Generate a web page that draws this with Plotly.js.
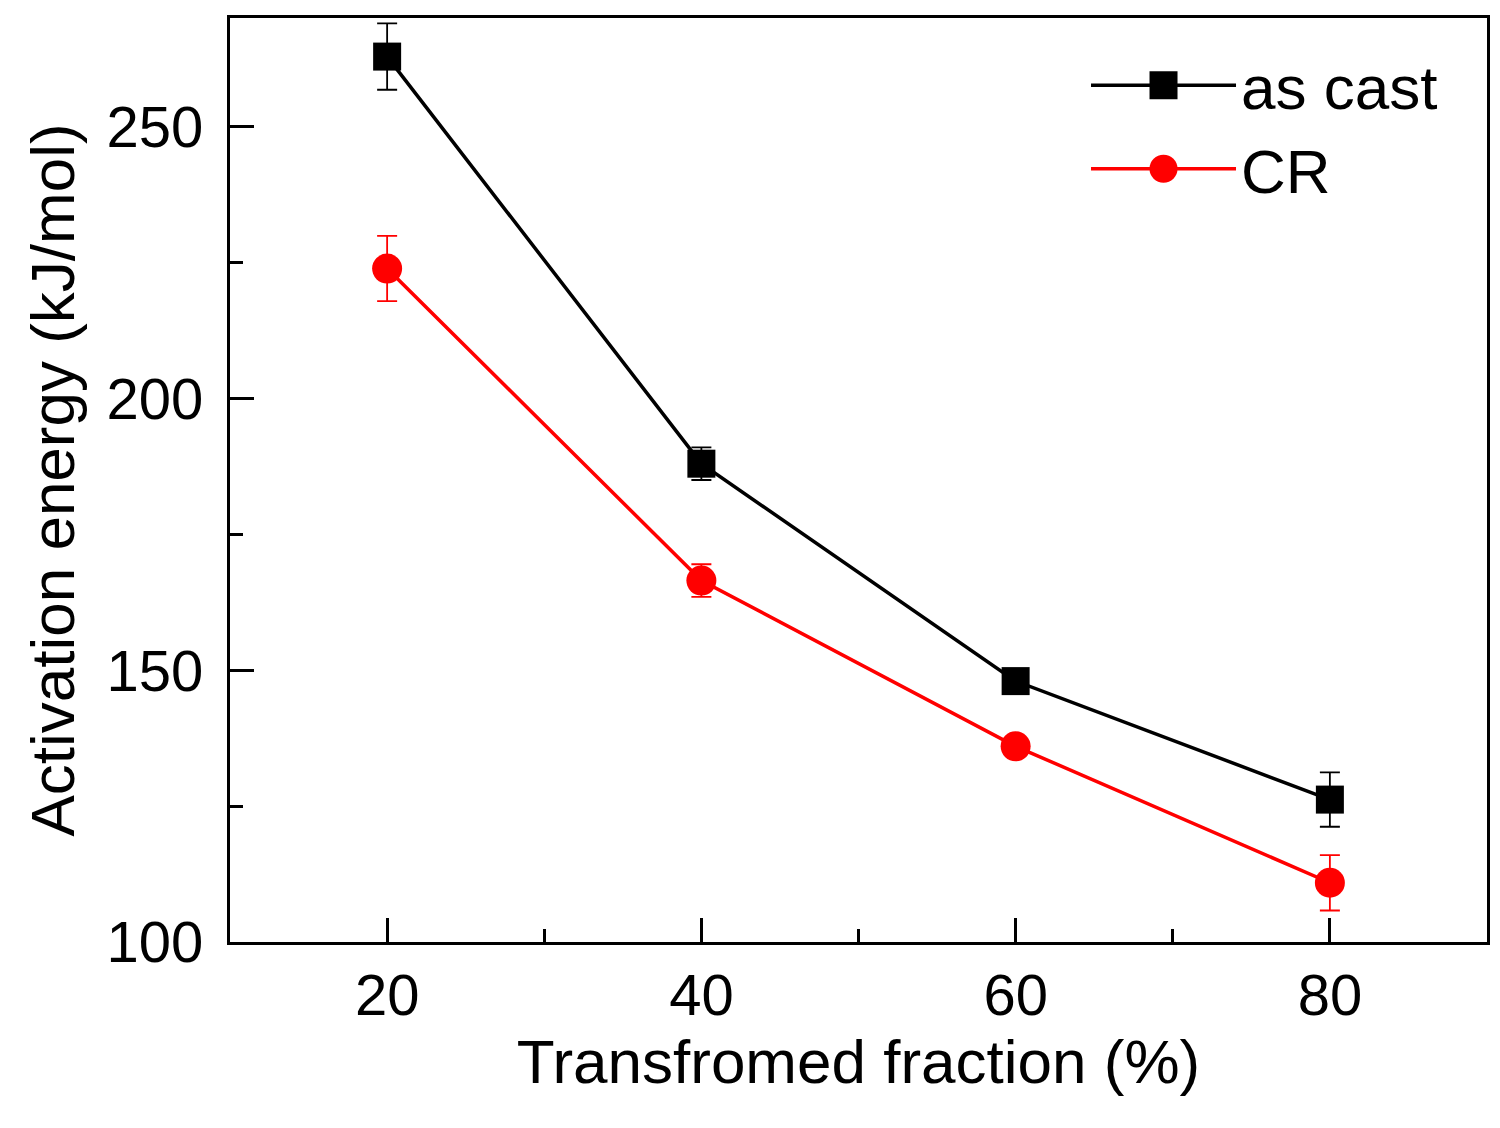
<!DOCTYPE html>
<html>
<head>
<meta charset="utf-8">
<script src="https://cdn.plot.ly/plotly-3.0.1.min.js"></script>
<style>
  html, body { margin: 0; padding: 0; background: #fff; }
  #myDiv { width: 1500px; height: 1128px; }
</style>
</head>
<body>
<div id="myDiv"></div>
<script>
// transformed fraction (%)
var fraction = [20, 40, 60, 80];

// activation energy (kJ/mol) and its error
var asCast = [262.9, 188.0, 148.0, 126.2];
var asCastErr = [6.1, 3.0, 1.0, 5.0];
var cr = [223.9, 166.5, 136.0, 110.9];
var crErr = [6.0, 3.0, 1.0, 5.1];

var font = 'Arial, "Liberation Sans", sans-serif';

var trace1 = {
  x: fraction,
  y: asCast,
  error_y: {type: 'data', array: asCastErr, visible: true, color: '#000', thickness: 1.8, width: 10},
  mode: 'lines+markers',
  name: 'as cast',
  line: {color: '#000', width: 3.5},
  marker: {symbol: 'square', size: 28, color: '#000'},
  type: 'scatter'
};
var trace2 = {
  x: fraction,
  y: cr,
  error_y: {type: 'data', array: crErr, visible: true, color: '#ff0000', thickness: 1.8, width: 10},
  mode: 'lines+markers',
  name: 'CR',
  line: {color: '#ff0000', width: 3.5},
  marker: {symbol: 'circle', size: 30, color: '#ff0000'},
  type: 'scatter'
};

var layout = {
  width: 1500,
  height: 1128,
  margin: {l: 230, r: 13, t: 18, b: 186},
  paper_bgcolor: '#fff',
  plot_bgcolor: '#fff',
  font: {family: font, color: '#000'},
  showlegend: true,
  legend: {
    x: 0.681, y: 0.978, xanchor: 'left', yanchor: 'top',
    bgcolor: 'rgba(0,0,0,0)',
    font: {size: 62, family: font},
    itemwidth: 145,
    tracegroupgap: 0
  },
  xaxis: {
    range: [10, 90],
    tickmode: 'linear', tick0: 0, dtick: 20,
    ticks: 'inside', ticklen: 24, tickwidth: 3, tickcolor: '#000',
    minor: {ticks: 'inside', dtick: 10, ticklen: 13, tickwidth: 3, tickcolor: '#000'},
    showline: true, linewidth: 3, linecolor: '#000', mirror: true,
    showgrid: false, zeroline: false,
    tickfont: {size: 58, family: font},
    ticklabelstandoff: 0,
    title: {text: 'Transfromed fraction (%)', font: {size: 62, family: font}, standoff: 10}
  },
  yaxis: {
    range: [100, 270],
    tickmode: 'linear', tick0: 0, dtick: 50,
    ticks: 'inside', ticklen: 24, tickwidth: 3, tickcolor: '#000',
    minor: {ticks: 'inside', dtick: 25, ticklen: 13, tickwidth: 3, tickcolor: '#000'},
    showline: true, linewidth: 3, linecolor: '#000', mirror: true,
    showgrid: false, zeroline: false,
    tickfont: {size: 58, family: font},
    ticklabelstandoff: 12,
    title: {text: 'Activation energy (kJ/mol)', font: {size: 62, family: font}, standoff: 12}
  }
};

Plotly.newPlot('myDiv', [trace1, trace2], layout, {staticPlot: true}).then(function () {
  // legend symbols are capped in size, enlarge them to match the plot markers
  document.querySelectorAll('.legendpoints .scatterpts').forEach(function (p) {
    var t = p.getAttribute('transform') || '';
    p.setAttribute('transform', t + ' scale(1.75)');
  });
});
</script>
</body>
</html>
